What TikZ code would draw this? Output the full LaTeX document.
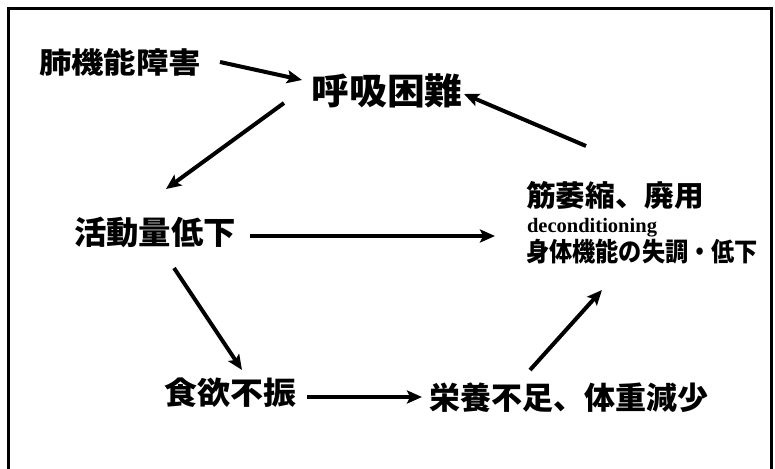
\documentclass[tikz,border=0pt]{standalone}
\usepackage{fontspec}
\usepackage{graphicx}
\usetikzlibrary{arrows.meta}
\newfontfamily\cjk{Noto Sans CJK JP}
\newfontfamily\decfont{Liberation Serif}
\newcommand{\fitw}[2]{\resizebox{#1pt}{\height}{#2}}
\tikzset{
  lbl/.style={anchor=base west, inner sep=0pt, outer sep=0pt},
  arr/.style={line width=4pt, -{Stealth[length=15pt,width=13pt,inset=3pt]}},
  frame/.style={line width=3pt}
}
\begin{document}
\begin{tikzpicture}[x=1pt,y=-1pt]
\useasboundingbox (0,0) rectangle (775,468);
\draw[frame] (8,470) -- (8,9) -- (771,9) -- (771,470);
\node[lbl, font=\cjk\bfseries\fontsize{29}{30}\selectfont] (lung) at (39,73.5) {\fitw{162}{肺機能障害}};
\node[lbl, font=\cjk\bfseries\fontsize{36}{37}\selectfont] (dys) at (311.5,104.7) {\fitw{151}{呼吸困難}};
\node[lbl, font=\cjk\bfseries\fontsize{32}{33}\selectfont] (act) at (74,244.7) {\fitw{162}{活動量低下}};
\node[lbl, font=\cjk\bfseries\fontsize{29}{30}\selectfont] (mus) at (526,206) {\fitw{178}{筋萎縮、廃用}};
\node[lbl, font=\decfont\bfseries\fontsize{20.5}{21}\selectfont] (dec) at (527,232) {\fitw{130}{deconditioning}};
\node[lbl, font=\cjk\bfseries\fontsize{26}{27}\selectfont] (body) at (526,261.4) {\fitw{232}{身体機能の失調・低下}};
\node[lbl, font=\cjk\bfseries\fontsize{31}{32}\selectfont] (app) at (164,404.8) {\fitw{132}{食欲不振}};
\node[lbl, font=\cjk\bfseries\fontsize{31}{32}\selectfont] (nut) at (429,409.8) {\fitw{279}{栄養不足、体重減少}};
\draw[arr] ([shift={(181,-11.5)}]lung.base west) -- ([shift={(-9.5,-24.7)}]dys.base west);
\draw[arr] ([shift={(-27.5,-1.7)}]dys.base west) -- ([shift={(92,-55.7)}]act.base west);
\draw[arr] ([shift={(60,-60)}]mus.base west) -- ([shift={(152.5,-10.7)}]dys.base west);
\draw[arr] ([shift={(176,-8.7)}]act.base west) -- ([shift={(-32,4)}]dec.base west);
\draw[arr] ([shift={(100,23.3)}]act.base west) -- ([shift={(78,-34.8)}]app.base west);
\draw[arr] ([shift={(143,-7.8)}]app.base west) -- ([shift={(-7,-12.8)}]nut.base west);
\draw[arr] ([shift={(101,-39.8)}]nut.base west) -- ([shift={(76,28.6)}]body.base west);
\end{tikzpicture}
\end{document}
